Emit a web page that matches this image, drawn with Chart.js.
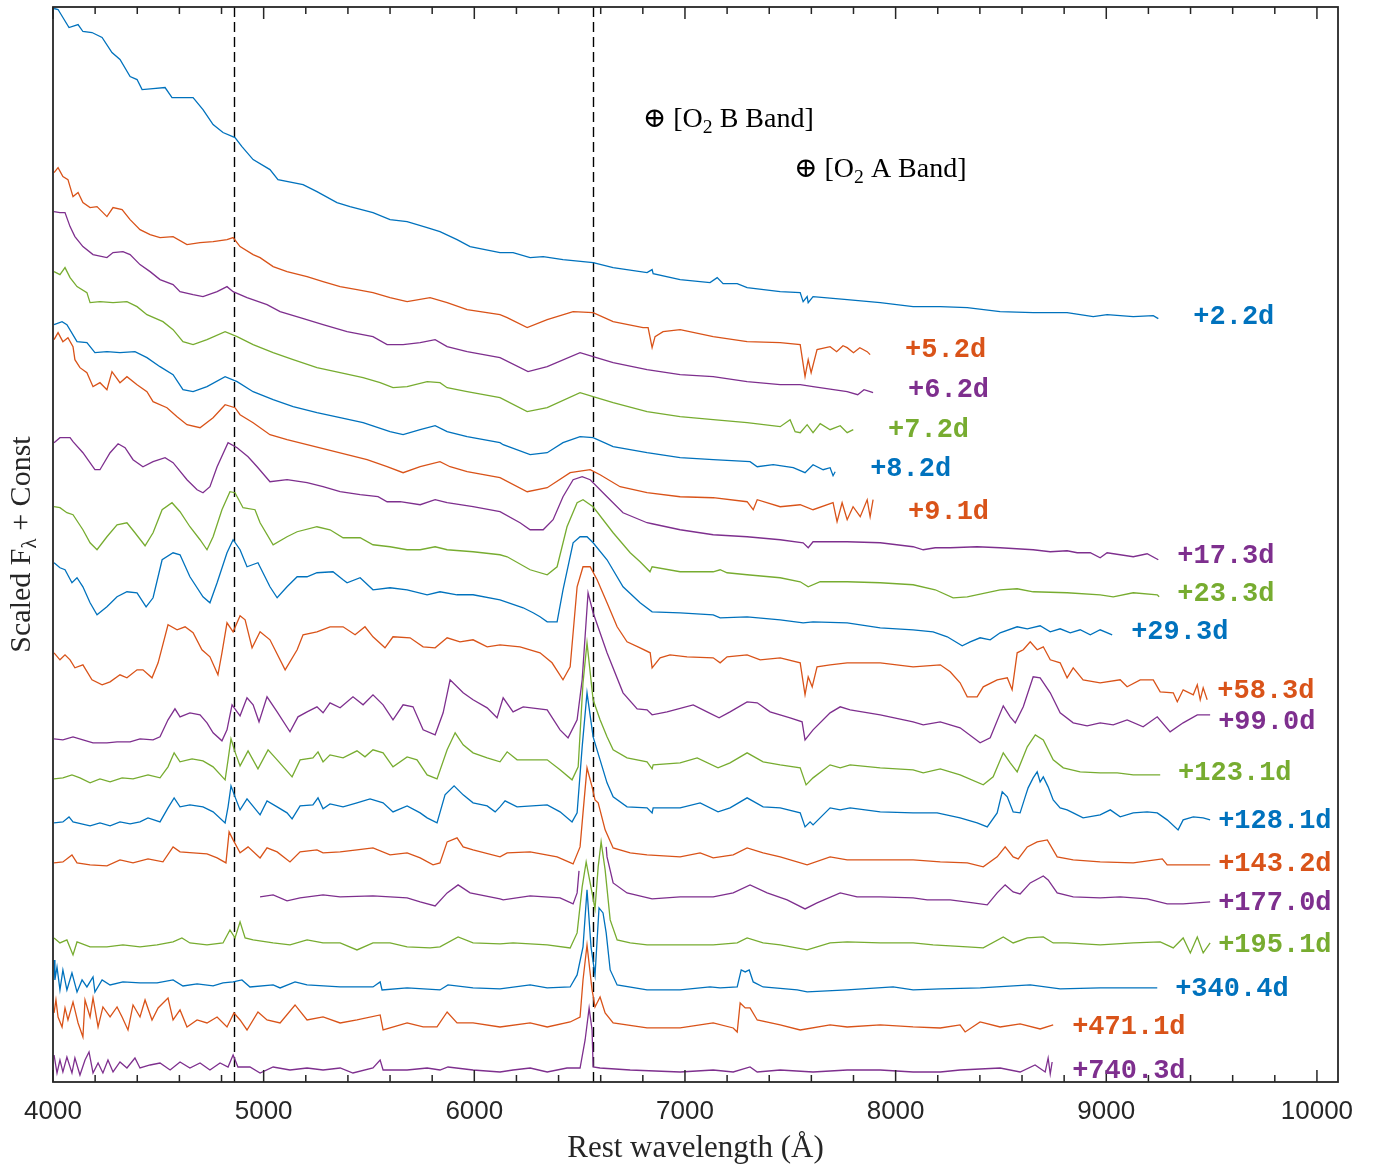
<!DOCTYPE html>
<html>
<head>
<meta charset="utf-8">
<title>Spectral sequence</title>
<script src="https://cdn.jsdelivr.net/npm/chart.js@4.4.1/dist/chart.umd.min.js"></script>
<style>
  html, body { margin: 0; padding: 0; background: #fff; }
  canvas { display: block; }
</style>
</head>
<body>
<canvas id="spectra" width="1382" height="1169"></canvas>
<script>
// ── Spectra: [rest wavelength (Å), scaled flux + const] ──
const s2_2 = [[4005,10.73],[4024,10.72],[4047,10.64],[4076,10.54],[4119,10.57],[4142,10.50],[4185,10.49],[4233,10.44],[4280,10.29],[4318,10.22],[4366,10.05],[4399,10.02],[4423,9.92],[4475,9.93],[4532,9.94],[4565,9.84],[4617,9.84],[4665,9.84],[4712,9.72],[4760,9.57],[4807,9.49],[4864,9.44],[4897,9.35],[4950,9.22],[5030,9.12],[5068,9.02],[5187,8.97],[5253,8.90],[5348,8.79],[5410,8.75],[5519,8.69],[5600,8.62],[5681,8.60],[5776,8.54],[5837,8.50],[5918,8.42],[5980,8.35],[6122,8.29],[6184,8.29],[6265,8.24],[6327,8.25],[6421,8.22],[6564,8.19],[6659,8.14],[6820,8.09],[6844,8.12],[6849,8.08],[6977,8.02],[7119,7.99],[7153,8.04],[7181,7.98],[7248,7.98],[7295,7.94],[7452,7.90],[7547,7.89],[7561,7.80],[7580,7.85],[7585,7.79],[7608,7.85],[7770,7.82],[7927,7.79],[8083,7.75],[8212,7.75],[8340,7.74],[8496,7.70],[8653,7.69],[8814,7.69],[8938,7.65],[9004,7.67],[9128,7.65],[9223,7.66],[9247,7.63]];
const s5_2 = [[4005,9.09],[4024,9.14],[4047,9.05],[4071,9.02],[4095,8.85],[4119,8.89],[4142,8.79],[4176,8.74],[4209,8.75],[4256,8.65],[4285,8.74],[4328,8.72],[4366,8.62],[4413,8.52],[4461,8.47],[4508,8.44],[4570,8.45],[4636,8.37],[4698,8.39],[4760,8.40],[4826,8.42],[4855,8.44],[4888,8.35],[4950,8.27],[4983,8.24],[5045,8.15],[5111,8.10],[5206,8.05],[5282,8.00],[5363,7.95],[5443,7.92],[5519,7.89],[5600,7.84],[5681,7.80],[5790,7.84],[5871,7.79],[5966,7.72],[6122,7.67],[6156,7.64],[6251,7.54],[6346,7.62],[6469,7.70],[6564,7.69],[6659,7.60],[6801,7.54],[6825,7.54],[6844,7.34],[6858,7.45],[6896,7.50],[6977,7.52],[7134,7.45],[7295,7.40],[7452,7.39],[7547,7.37],[7570,7.05],[7585,7.22],[7599,7.09],[7627,7.32],[7689,7.35],[7720,7.30],[7750,7.36],[7770,7.34],[7800,7.29],[7830,7.34],[7865,7.30],[7879,7.27]];
const s6_2 = [[4005,8.70],[4033,8.69],[4057,8.69],[4081,8.55],[4104,8.45],[4142,8.35],[4190,8.27],[4256,8.24],[4285,8.29],[4332,8.30],[4366,8.27],[4413,8.17],[4461,8.10],[4508,8.02],[4570,7.97],[4603,7.90],[4665,7.87],[4712,7.85],[4779,7.90],[4826,7.95],[4855,7.90],[4921,7.84],[5016,7.77],[5078,7.70],[5173,7.64],[5282,7.57],[5396,7.50],[5519,7.45],[5586,7.37],[5662,7.37],[5743,7.39],[5814,7.42],[5871,7.35],[5966,7.30],[6122,7.24],[6255,7.10],[6346,7.15],[6502,7.29],[6564,7.25],[6659,7.19],[6820,7.12],[6977,7.07],[7134,7.05],[7295,7.00],[7452,6.97],[7547,6.97],[7608,6.95],[7770,6.90],[7820,6.87],[7850,6.92],[7879,6.90],[7893,6.89]];
const s7_2 = [[4005,8.10],[4033,8.07],[4057,8.14],[4081,8.04],[4114,7.95],[4161,7.89],[4176,7.79],[4223,7.80],[4285,7.79],[4351,7.80],[4399,7.75],[4446,7.67],[4522,7.60],[4570,7.52],[4617,7.40],[4665,7.37],[4731,7.42],[4817,7.50],[4874,7.45],[4950,7.37],[5045,7.29],[5140,7.22],[5253,7.14],[5363,7.09],[5472,7.04],[5553,6.99],[5614,6.94],[5681,6.95],[5776,7.00],[5837,6.99],[5871,6.94],[5966,6.90],[6122,6.84],[6251,6.70],[6346,6.74],[6502,6.89],[6564,6.85],[6659,6.79],[6820,6.70],[6977,6.65],[7134,6.62],[7295,6.59],[7452,6.55],[7499,6.62],[7523,6.50],[7547,6.49],[7580,6.57],[7608,6.49],[7642,6.58],[7689,6.52],[7737,6.56],[7770,6.49],[7799,6.52]];
const s8_2 = [[4005,7.57],[4043,7.60],[4066,7.57],[4114,7.40],[4161,7.39],[4199,7.29],[4256,7.30],[4318,7.29],[4389,7.30],[4446,7.24],[4508,7.15],[4570,7.07],[4617,6.92],[4665,6.90],[4731,6.95],[4817,7.05],[4874,7.00],[4950,6.90],[5045,6.82],[5140,6.75],[5253,6.69],[5363,6.64],[5472,6.59],[5600,6.50],[5662,6.47],[5743,6.52],[5814,6.56],[5871,6.50],[5966,6.45],[6122,6.39],[6137,6.37],[6265,6.27],[6346,6.29],[6421,6.39],[6502,6.45],[6564,6.44],[6659,6.35],[6820,6.29],[6977,6.24],[7134,6.22],[7309,6.20],[7343,6.15],[7419,6.17],[7514,6.14],[7570,6.09],[7608,6.17],[7656,6.12],[7689,6.14],[7703,6.06],[7713,6.10]];
const s9_1 = [[4005,7.42],[4024,7.49],[4047,7.40],[4071,7.44],[4095,7.35],[4104,7.22],[4128,7.14],[4161,7.09],[4190,6.95],[4223,6.99],[4256,6.92],[4280,7.10],[4318,6.99],[4351,7.05],[4399,6.97],[4446,6.90],[4475,6.80],[4541,6.74],[4589,6.65],[4636,6.57],[4698,6.54],[4760,6.64],[4817,6.77],[4864,6.74],[4888,6.67],[4950,6.59],[5030,6.47],[5111,6.42],[5206,6.37],[5301,6.32],[5396,6.27],[5491,6.22],[5586,6.15],[5662,6.09],[5743,6.15],[5837,6.20],[5885,6.15],[5966,6.10],[6122,6.04],[6251,5.90],[6346,5.94],[6455,6.09],[6550,6.12],[6597,6.07],[6692,5.95],[6820,5.89],[6977,5.85],[7134,5.84],[7295,5.80],[7324,5.72],[7343,5.82],[7452,5.75],[7547,5.77],[7608,5.72],[7703,5.79],[7722,5.60],[7746,5.79],[7770,5.62],[7798,5.75],[7832,5.65],[7865,5.82],[7879,5.65],[7893,5.82]];
const s17_3 = [[4005,6.39],[4033,6.44],[4081,6.44],[4095,6.40],[4142,6.29],[4199,6.12],[4223,6.12],[4271,6.29],[4309,6.38],[4342,6.34],[4380,6.22],[4427,6.15],[4475,6.20],[4532,6.24],[4570,6.19],[4636,6.02],[4684,5.92],[4712,5.89],[4745,5.95],[4779,6.15],[4831,6.39],[4874,6.34],[4926,6.25],[4969,6.15],[5030,6.00],[5111,6.02],[5206,5.99],[5282,5.95],[5363,5.90],[5458,5.87],[5543,5.85],[5586,5.80],[5648,5.80],[5743,5.77],[5814,5.82],[5871,5.79],[5994,5.75],[6122,5.70],[6217,5.59],[6265,5.52],[6327,5.52],[6374,5.62],[6421,5.85],[6469,6.02],[6512,6.05],[6550,6.02],[6630,5.85],[6706,5.69],[6820,5.59],[6844,5.58],[6977,5.52],[7134,5.47],[7295,5.45],[7452,5.42],[7561,5.39],[7585,5.34],[7608,5.40],[7770,5.40],[7927,5.39],[8083,5.35],[8131,5.32],[8188,5.34],[8259,5.34],[8387,5.35],[8496,5.34],[8653,5.32],[8734,5.30],[8814,5.31],[8862,5.29],[8924,5.29],[8971,5.24],[9004,5.29],[9128,5.25],[9194,5.28],[9247,5.22]];
const s23_3 = [[4005,5.75],[4033,5.74],[4066,5.69],[4095,5.67],[4142,5.52],[4176,5.39],[4209,5.32],[4256,5.45],[4304,5.57],[4351,5.59],[4389,5.49],[4437,5.36],[4475,5.49],[4518,5.72],[4565,5.79],[4603,5.70],[4650,5.55],[4698,5.42],[4731,5.32],[4760,5.45],[4802,5.72],[4840,5.90],[4864,5.89],[4902,5.74],[4959,5.72],[4983,5.59],[5045,5.37],[5111,5.45],[5159,5.50],[5253,5.55],[5315,5.52],[5377,5.44],[5458,5.44],[5519,5.37],[5600,5.35],[5681,5.32],[5743,5.32],[5814,5.35],[5871,5.32],[5994,5.30],[6122,5.27],[6156,5.25],[6265,5.12],[6346,5.07],[6393,5.15],[6440,5.55],[6488,5.79],[6516,5.82],[6564,5.75],[6659,5.49],[6740,5.29],[6787,5.20],[6834,5.10],[6844,5.15],[6977,5.10],[7134,5.10],[7167,5.12],[7200,5.09],[7295,5.07],[7452,5.04],[7547,5.00],[7585,4.95],[7642,5.00],[7770,5.00],[7927,4.99],[8083,4.97],[8188,4.92],[8273,4.84],[8340,4.85],[8496,4.92],[8577,4.93],[8653,4.90],[8814,4.89],[8971,4.87],[9033,4.85],[9128,4.89],[9242,4.87],[9251,4.85]];
const s29_3 = [[4005,5.19],[4033,5.14],[4057,5.12],[4090,4.99],[4114,5.04],[4142,4.95],[4176,4.79],[4209,4.67],[4256,4.75],[4304,4.85],[4351,4.90],[4399,4.89],[4442,4.75],[4475,4.84],[4518,5.22],[4570,5.29],[4603,5.27],[4650,5.05],[4712,4.85],[4745,4.79],[4779,4.99],[4826,5.29],[4855,5.42],[4888,5.32],[4921,5.15],[4973,5.19],[5030,4.95],[5064,4.84],[5111,4.95],[5159,5.05],[5206,5.05],[5253,5.09],[5329,5.10],[5377,5.02],[5396,4.99],[5458,5.04],[5519,4.92],[5600,4.94],[5681,4.92],[5776,4.87],[5837,4.90],[5918,4.87],[5994,4.87],[6122,4.82],[6232,4.74],[6279,4.69],[6312,4.65],[6346,4.60],[6393,4.60],[6421,4.92],[6469,5.39],[6502,5.45],[6535,5.45],[6564,5.39],[6630,5.22],[6706,4.95],[6787,4.79],[6844,4.70],[6977,4.69],[7134,4.67],[7167,4.64],[7295,4.65],[7452,4.62],[7561,4.59],[7608,4.60],[7770,4.59],[7927,4.54],[8083,4.52],[8178,4.50],[8245,4.45],[8316,4.36],[8354,4.40],[8401,4.44],[8449,4.42],[8496,4.49],[8577,4.55],[8625,4.53],[8686,4.56],[8734,4.50],[8781,4.53],[8829,4.49],[8876,4.52],[8924,4.47],[8971,4.52],[9028,4.47]];
const s58_3 = [[4005,4.29],[4033,4.22],[4057,4.27],[4081,4.22],[4104,4.14],[4142,4.17],[4185,4.02],[4233,3.97],[4271,4.00],[4318,4.07],[4351,4.04],[4399,4.12],[4427,4.12],[4470,4.04],[4499,4.19],[4546,4.57],[4589,4.52],[4627,4.55],[4665,4.49],[4707,4.32],[4745,4.25],[4783,4.07],[4802,4.29],[4826,4.59],[4855,4.50],[4888,4.66],[4912,4.62],[4945,4.34],[4983,4.50],[5030,4.42],[5102,4.12],[5159,4.32],[5187,4.47],[5253,4.50],[5315,4.55],[5377,4.55],[5434,4.47],[5481,4.55],[5519,4.45],[5576,4.34],[5614,4.45],[5695,4.44],[5757,4.35],[5814,4.34],[5871,4.44],[5932,4.40],[5994,4.42],[6061,4.35],[6122,4.37],[6217,4.35],[6312,4.29],[6369,4.19],[6421,4.02],[6455,4.15],[6488,4.95],[6516,5.15],[6550,5.15],[6583,5.02],[6630,4.79],[6678,4.55],[6725,4.40],[6787,4.34],[6835,4.29],[6844,4.14],[6882,4.24],[6929,4.27],[7010,4.25],[7134,4.24],[7167,4.19],[7200,4.25],[7295,4.27],[7357,4.22],[7452,4.24],[7547,4.19],[7570,3.87],[7585,4.05],[7604,3.95],[7627,4.15],[7689,4.17],[7770,4.19],[7927,4.19],[8083,4.15],[8212,4.17],[8259,4.10],[8306,3.99],[8340,3.85],[8387,3.85],[8416,3.95],[8482,4.02],[8530,4.04],[8553,3.92],[8577,4.29],[8606,4.32],[8639,4.40],[8672,4.32],[8701,4.35],[8734,4.22],[8781,4.19],[8814,4.04],[8843,4.14],[8890,4.02],[8971,3.99],[9066,4.02],[9099,3.95],[9161,4.02],[9223,4.02],[9256,3.90],[9318,3.89],[9337,3.80],[9365,3.92],[9413,3.87],[9432,3.97],[9446,3.82],[9460,3.94],[9479,3.82]];
const s99_0 = [[4005,3.43],[4047,3.42],[4095,3.45],[4142,3.42],[4190,3.39],[4256,3.39],[4304,3.40],[4366,3.40],[4413,3.43],[4475,3.42],[4508,3.45],[4546,3.62],[4579,3.73],[4603,3.65],[4650,3.69],[4698,3.67],[4731,3.59],[4760,3.49],[4802,3.41],[4826,3.52],[4850,3.77],[4874,3.70],[4888,3.66],[4921,3.84],[4950,3.77],[4978,3.60],[5016,3.85],[5064,3.70],[5125,3.50],[5163,3.65],[5206,3.70],[5253,3.75],[5282,3.69],[5315,3.79],[5363,3.74],[5424,3.85],[5472,3.77],[5519,3.87],[5567,3.77],[5614,3.62],[5662,3.77],[5709,3.75],[5757,3.52],[5814,3.47],[5852,3.69],[5885,4.02],[5947,3.89],[5994,3.82],[6061,3.74],[6108,3.64],[6137,3.84],[6184,3.70],[6232,3.75],[6346,3.72],[6407,3.52],[6445,3.44],[6488,3.62],[6512,4.02],[6540,4.89],[6564,4.69],[6630,4.29],[6706,3.89],[6773,3.73],[6820,3.72],[6844,3.67],[6915,3.70],[7039,3.77],[7105,3.70],[7162,3.64],[7214,3.70],[7295,3.80],[7343,3.79],[7404,3.70],[7499,3.64],[7556,3.60],[7570,3.42],[7608,3.52],[7689,3.69],[7737,3.75],[7784,3.72],[7927,3.67],[8083,3.60],[8131,3.57],[8212,3.60],[8306,3.54],[8401,3.39],[8449,3.44],[8511,3.76],[8544,3.65],[8568,3.59],[8606,3.75],[8653,4.05],[8686,4.04],[8734,3.89],[8781,3.69],[8843,3.59],[8909,3.56],[8971,3.59],[9033,3.57],[9099,3.62],[9175,3.55],[9242,3.65],[9303,3.50],[9365,3.59],[9432,3.67],[9493,3.67]];
const s123_1 = [[4005,3.03],[4047,3.04],[4090,3.07],[4128,3.04],[4176,2.99],[4223,3.03],[4271,3.00],[4328,3.04],[4380,3.03],[4451,3.07],[4508,3.04],[4546,3.15],[4575,3.29],[4603,3.20],[4660,3.23],[4712,3.21],[4760,3.15],[4817,3.02],[4831,3.22],[4845,3.43],[4864,3.30],[4888,3.16],[4926,3.31],[4973,3.13],[5021,3.32],[5064,3.22],[5135,3.05],[5173,3.22],[5234,3.24],[5258,3.30],[5282,3.20],[5315,3.27],[5377,3.24],[5443,3.31],[5481,3.25],[5519,3.32],[5567,3.29],[5614,3.15],[5681,3.25],[5728,3.22],[5776,3.07],[5823,3.03],[5871,3.32],[5909,3.49],[5947,3.37],[5994,3.29],[6061,3.24],[6122,3.20],[6156,3.30],[6203,3.22],[6346,3.22],[6407,3.12],[6464,3.02],[6493,3.15],[6516,3.99],[6535,4.39],[6564,3.82],[6597,3.62],[6630,3.45],[6659,3.32],[6725,3.24],[6820,3.20],[6844,3.13],[6849,3.17],[6977,3.19],[7058,3.24],[7157,3.14],[7214,3.19],[7295,3.29],[7371,3.20],[7452,3.17],[7547,3.14],[7575,2.97],[7608,3.04],[7689,3.17],[7737,3.14],[7784,3.17],[7927,3.14],[8083,3.12],[8131,3.09],[8212,3.13],[8306,3.07],[8416,2.97],[8463,3.05],[8511,3.29],[8544,3.19],[8577,3.10],[8625,3.35],[8663,3.47],[8701,3.42],[8748,3.22],[8796,3.14],[8876,3.10],[8971,3.09],[9052,3.09],[9128,3.07],[9194,3.07],[9256,3.07]];
const s128_1 = [[4005,2.59],[4047,2.60],[4076,2.65],[4095,2.60],[4176,2.56],[4223,2.59],[4271,2.56],[4318,2.60],[4366,2.58],[4413,2.60],[4451,2.64],[4508,2.60],[4546,2.74],[4575,2.84],[4603,2.75],[4650,2.77],[4712,2.75],[4760,2.70],[4817,2.59],[4831,2.75],[4845,2.96],[4864,2.85],[4888,2.72],[4921,2.83],[4983,2.67],[5016,2.81],[5064,2.75],[5111,2.69],[5135,2.63],[5173,2.76],[5234,2.77],[5258,2.84],[5282,2.73],[5315,2.78],[5377,2.75],[5443,2.79],[5505,2.83],[5567,2.79],[5614,2.70],[5681,2.76],[5743,2.69],[5776,2.64],[5823,2.59],[5861,2.87],[5904,2.96],[5947,2.87],[5994,2.79],[6061,2.76],[6099,2.70],[6122,2.75],[6146,2.81],[6203,2.75],[6346,2.77],[6407,2.70],[6464,2.60],[6488,2.69],[6512,3.35],[6535,3.89],[6564,3.45],[6597,3.22],[6630,2.99],[6659,2.85],[6725,2.75],[6820,2.74],[6844,2.69],[6849,2.74],[6977,2.74],[7072,2.79],[7157,2.70],[7214,2.74],[7295,2.84],[7371,2.75],[7452,2.74],[7547,2.69],[7570,2.55],[7594,2.60],[7608,2.57],[7689,2.74],[7737,2.72],[7784,2.74],[7927,2.70],[8083,2.69],[8197,2.69],[8306,2.64],[8387,2.59],[8435,2.55],[8482,2.69],[8506,2.90],[8530,2.85],[8558,2.70],[8591,2.69],[8615,2.85],[8629,2.94],[8653,3.04],[8672,3.10],[8686,3.00],[8701,3.05],[8724,2.95],[8748,2.82],[8781,2.74],[8814,2.72],[8843,2.69],[8890,2.64],[8971,2.67],[9019,2.72],[9066,2.65],[9128,2.69],[9194,2.70],[9242,2.69],[9289,2.62],[9341,2.52],[9365,2.62],[9413,2.65],[9460,2.64],[9493,2.62]];
const s143_2 = [[4005,2.19],[4047,2.20],[4090,2.27],[4114,2.19],[4176,2.17],[4256,2.16],[4318,2.22],[4380,2.19],[4451,2.23],[4522,2.20],[4570,2.35],[4603,2.30],[4665,2.29],[4731,2.28],[4779,2.24],[4821,2.19],[4836,2.50],[4855,2.42],[4888,2.29],[4926,2.35],[4983,2.24],[5016,2.34],[5064,2.30],[5125,2.20],[5173,2.30],[5253,2.32],[5282,2.29],[5363,2.30],[5443,2.32],[5519,2.34],[5600,2.27],[5681,2.29],[5743,2.24],[5804,2.17],[5837,2.19],[5871,2.40],[5918,2.44],[5947,2.35],[5994,2.32],[6122,2.25],[6156,2.29],[6265,2.30],[6393,2.25],[6469,2.18],[6502,2.35],[6516,2.69],[6535,3.14],[6559,2.95],[6573,2.82],[6588,2.79],[6621,2.52],[6659,2.34],[6740,2.29],[6820,2.27],[6977,2.25],[7072,2.29],[7134,2.24],[7229,2.27],[7295,2.34],[7371,2.29],[7452,2.25],[7580,2.17],[7689,2.25],[7770,2.22],[7927,2.22],[8083,2.22],[8212,2.20],[8340,2.19],[8416,2.15],[8482,2.25],[8520,2.35],[8558,2.25],[8582,2.23],[8625,2.35],[8672,2.40],[8720,2.42],[8767,2.25],[8843,2.22],[8971,2.20],[9128,2.19],[9266,2.23],[9289,2.17],[9493,2.17]];
const s177_0 = [[4983,1.85],[5045,1.87],[5111,1.81],[5173,1.84],[5282,1.87],[5363,1.85],[5519,1.86],[5681,1.84],[5743,1.80],[5814,1.76],[5871,1.89],[5923,1.97],[5980,1.89],[6122,1.83],[6137,1.82],[6265,1.86],[6407,1.84],[6469,1.78],[6488,1.89],[6497,2.11],[6560,null],[6626,2.35],[6630,2.25],[6659,1.99],[6725,1.89],[6844,1.83],[6977,1.85],[7134,1.85],[7229,1.89],[7309,1.97],[7390,1.89],[7485,1.82],[7570,1.73],[7627,1.79],[7737,1.89],[7817,1.85],[7927,1.85],[8083,1.84],[8150,1.82],[8259,1.82],[8368,1.79],[8435,1.77],[8482,1.89],[8520,1.97],[8558,1.90],[8591,1.88],[8639,1.99],[8701,2.06],[8724,2.02],[8767,1.89],[8843,1.85],[8971,1.84],[9066,1.85],[9194,1.83],[9289,1.78],[9365,1.78],[9493,1.80]];
const s195_1 = [[4005,1.44],[4033,1.39],[4066,1.42],[4095,1.27],[4114,1.40],[4176,1.35],[4256,1.35],[4332,1.37],[4413,1.35],[4494,1.37],[4570,1.40],[4612,1.44],[4650,1.39],[4731,1.37],[4807,1.39],[4840,1.52],[4864,1.44],[4888,1.60],[4912,1.44],[4950,1.42],[5045,1.39],[5125,1.37],[5206,1.42],[5282,1.39],[5363,1.39],[5443,1.32],[5519,1.39],[5600,1.39],[5681,1.35],[5790,1.34],[5837,1.35],[5923,1.45],[5994,1.39],[6122,1.38],[6184,1.39],[6346,1.37],[6455,1.34],[6488,1.49],[6512,1.95],[6531,2.20],[6559,1.89],[6573,1.73],[6588,2.15],[6602,2.40],[6621,2.12],[6645,1.62],[6678,1.42],[6740,1.39],[6820,1.37],[6977,1.37],[7134,1.37],[7248,1.39],[7295,1.44],[7371,1.39],[7452,1.37],[7580,1.32],[7689,1.39],[7770,1.40],[7927,1.39],[8083,1.39],[8178,1.37],[8340,1.35],[8416,1.34],[8511,1.45],[8558,1.39],[8625,1.44],[8701,1.45],[8748,1.39],[8814,1.39],[8971,1.37],[9128,1.39],[9256,1.40],[9318,1.34],[9365,1.44],[9399,1.29],[9432,1.45],[9460,1.29],[9493,1.39]];
const s340_4 = [[4005,1.22],[4009,1.02],[4019,1.15],[4033,0.92],[4047,1.12],[4066,0.92],[4090,1.09],[4114,0.90],[4138,1.02],[4161,0.95],[4190,1.05],[4199,0.90],[4233,1.02],[4271,0.97],[4332,1.00],[4413,0.99],[4494,0.99],[4570,1.02],[4617,0.96],[4684,0.98],[4760,0.96],[4807,0.99],[4855,1.00],[4897,1.02],[4935,0.95],[5045,0.97],[5078,0.94],[5149,1.00],[5206,0.97],[5363,0.95],[5519,0.95],[5553,1.00],[5562,0.92],[5681,0.94],[5837,0.92],[5875,0.97],[5994,0.94],[6122,0.93],[6265,0.97],[6346,0.94],[6455,0.95],[6488,1.07],[6516,1.35],[6535,1.92],[6554,1.35],[6573,1.07],[6592,1.74],[6611,1.69],[6626,1.49],[6645,1.12],[6678,0.97],[6820,0.92],[6977,0.92],[7119,0.95],[7167,0.94],[7248,0.95],[7267,1.12],[7286,1.10],[7305,1.12],[7324,1.00],[7371,0.95],[7533,0.92],[7580,0.90],[7770,0.92],[7988,0.95],[8083,0.92],[8212,0.93],[8401,0.94],[8639,0.97],[8781,0.93],[8971,0.94],[9242,0.94]];
const s471_1 = [[4005,0.69],[4014,0.82],[4024,0.65],[4043,0.55],[4057,0.74],[4071,0.62],[4095,0.80],[4119,0.59],[4142,0.45],[4152,0.82],[4176,0.65],[4190,0.84],[4214,0.55],[4237,0.75],[4271,0.65],[4304,0.75],[4328,0.65],[4356,0.52],[4380,0.77],[4413,0.65],[4437,0.82],[4470,0.62],[4499,0.74],[4546,0.84],[4570,0.62],[4603,0.72],[4636,0.55],[4684,0.62],[4731,0.59],[4779,0.65],[4826,0.55],[4859,0.69],[4888,0.62],[4921,0.52],[4973,0.70],[5016,0.62],[5078,0.59],[5149,0.77],[5206,0.62],[5282,0.65],[5363,0.59],[5443,0.62],[5553,0.67],[5567,0.52],[5681,0.59],[5757,0.55],[5823,0.55],[5871,0.70],[5918,0.59],[5994,0.59],[6122,0.55],[6265,0.59],[6346,0.55],[6455,0.60],[6502,0.65],[6516,1.02],[6535,1.37],[6559,0.92],[6573,0.75],[6597,0.85],[6621,0.69],[6659,0.59],[6820,0.54],[6977,0.54],[7134,0.59],[7229,0.54],[7248,0.50],[7262,0.79],[7286,0.74],[7309,0.74],[7343,0.62],[7452,0.57],[7547,0.52],[7689,0.57],[7770,0.55],[7927,0.57],[8083,0.55],[8212,0.54],[8306,0.57],[8330,0.50],[8401,0.60],[8496,0.55],[8591,0.58],[8686,0.53],[8748,0.57]];
const s740_3 = [[4005,0.27],[4019,0.09],[4033,0.22],[4047,0.10],[4066,0.25],[4090,0.09],[4104,0.24],[4128,0.07],[4152,0.22],[4171,0.30],[4190,0.09],[4214,0.19],[4237,0.09],[4261,0.22],[4285,0.10],[4318,0.20],[4351,0.14],[4389,0.24],[4413,0.14],[4461,0.17],[4508,0.19],[4556,0.12],[4603,0.20],[4650,0.14],[4698,0.19],[4745,0.12],[4793,0.19],[4831,0.15],[4855,0.27],[4878,0.15],[4935,0.15],[4983,0.09],[5045,0.15],[5125,0.12],[5206,0.14],[5282,0.12],[5363,0.14],[5424,0.09],[5519,0.14],[5553,0.22],[5567,0.12],[5681,0.12],[5776,0.14],[5837,0.12],[5875,0.15],[5994,0.12],[6122,0.10],[6184,0.12],[6265,0.14],[6346,0.10],[6440,0.14],[6502,0.14],[6526,0.42],[6545,0.74],[6559,0.52],[6564,0.15],[6597,0.14],[6740,0.12],[6977,0.10],[7134,0.12],[7229,0.10],[7309,0.15],[7343,0.10],[7452,0.12],[7608,0.10],[7770,0.12],[7927,0.12],[8083,0.10],[8212,0.10],[8306,0.12],[8496,0.14],[8591,0.10],[8662,0.17],[8710,0.10],[8724,0.24],[8734,0.08],[8743,0.20]];

const spectra = [s2_2, s5_2, s6_2, s7_2, s8_2, s9_1, s17_3, s23_3, s29_3, s58_3, s99_0, s123_1, s128_1, s143_2, s177_0, s195_1, s340_4, s471_1, s740_3];
const epochs = ['+2.2d', '+5.2d', '+6.2d', '+7.2d', '+8.2d', '+9.1d', '+17.3d', '+23.3d', '+29.3d', '+58.3d', '+99.0d', '+123.1d', '+128.1d', '+143.2d', '+177.0d', '+195.1d', '+340.4d', '+471.1d', '+740.3d'];
// label anchors, in data units (left edge wavelength, flux)
const labelWave = [9413, 8045, 8059, 7964, 7879, 8059, 9337, 9337, 9118, 9527, 9531, 9341, 9531, 9531, 9531, 9531, 9327, 8838, 8838];
const labelFlux = [7.64, 7.31, 6.91, 6.51, 6.13, 5.70, 5.26, 4.88, 4.50, 3.91, 3.60, 3.09, 2.61, 2.18, 1.79, 1.37, 0.93, 0.55, 0.11];

const balmerLines = [4861, 6563];          // Hβ, Hα
const xTicks = [4000, 5000, 6000, 7000, 8000, 9000, 10000];
const telluric = [
  { wave: 6800, flux: 9.62, band: ' B Band]' },
  { wave: 7518, flux: 9.12, band: ' A Band]' }
];

const palette = ['#0072BD', '#D95319', '#7E2F8E', '#77AC30'];
const SERIF = '"Liberation Serif", "DejaVu Serif", serif';
const INK = '#262626';

// draw a run of text pieces; pieces flagged true are subscripts
function richText(ctx, parts, x, y, size, align) {
  const widths = parts.map(([t, sub]) => {
    ctx.font = (sub ? size * 0.7 : size) + 'px ' + SERIF;
    return ctx.measureText(t).width;
  });
  const total = widths.reduce((a, b) => a + b, 0);
  let cx = align === 'center' ? x - total / 2 : x;
  ctx.textAlign = 'left';
  ctx.textBaseline = 'middle';
  parts.forEach(([t, sub], i) => {
    ctx.font = (sub ? size * 0.7 : size) + 'px ' + SERIF;
    ctx.fillText(t, cx, sub ? y + size * 0.28 : y);
    cx += widths[i];
  });
}

const decor = {
  id: 'decor',
  beforeDatasetsDraw(chart) {
    const { ctx, chartArea: a, scales: { x } } = chart;
    ctx.save();
    ctx.strokeStyle = '#000';
    ctx.lineWidth = 1.4;
    ctx.setLineDash([10, 5]);
    balmerLines.forEach(w => {
      const px = Math.round(x.getPixelForValue(w)) + 0.5;
      ctx.beginPath();
      ctx.moveTo(px, a.top);
      ctx.lineTo(px, a.bottom);
      ctx.stroke();
    });
    ctx.restore();
  },
  afterDraw(chart) {
    const { ctx, chartArea: a, scales: { x, y } } = chart;
    ctx.save();

    // box + inward ticks top and bottom
    ctx.strokeStyle = INK;
    ctx.lineWidth = 1.8;
    ctx.strokeRect(a.left, a.top, a.right - a.left, a.bottom - a.top);
    ctx.lineWidth = 1.5;
    for (let v = 4000; v <= 10100; v += 200) {
      const px = x.getPixelForValue(v);
      const len = v % 1000 === 0 ? 12 : 7;
      ctx.beginPath();
      ctx.moveTo(px, a.bottom); ctx.lineTo(px, a.bottom - len);
      ctx.moveTo(px, a.top); ctx.lineTo(px, a.top + len);
      ctx.stroke();
    }

    // epoch labels
    ctx.font = 'bold 27px "Liberation Mono", "DejaVu Sans Mono", monospace';
    ctx.textAlign = 'left';
    ctx.textBaseline = 'middle';
    epochs.forEach((txt, i) => {
      ctx.fillStyle = palette[i % palette.length];
      ctx.fillText(txt, x.getPixelForValue(labelWave[i]), y.getPixelForValue(labelFlux[i]));
    });

    // telluric band notes
    ctx.fillStyle = '#000';
    telluric.forEach(t => {
      richText(ctx, [['\u2295 [O', false], ['2', true], [t.band, false]],
        x.getPixelForValue(t.wave), y.getPixelForValue(t.flux), 28, 'left');
    });

    // axis titles
    ctx.fillStyle = INK;
    richText(ctx, [['Rest wavelength (\u00c5)', false]], (a.left + a.right) / 2, 1149, 31, 'center');
    ctx.translate(22, (a.top + a.bottom) / 2);
    ctx.rotate(-Math.PI / 2);
    richText(ctx, [['Scaled F', false], ['\u03bb', true], [' + Const', false]], 0, 0, 30, 'center');
    ctx.restore();
  }
};

const datasets = spectra.map((s, i) => ({
  label: epochs[i],
  data: s.map(([w, f]) => ({ x: w, y: f })),
  borderColor: palette[i % palette.length],
  borderWidth: 1.3,
  pointRadius: 0,
  fill: false,
  tension: 0,
  spanGaps: false,
  order: spectra.length - i
}));

new Chart(document.getElementById('spectra'), {
  type: 'line',
  data: { datasets },
  options: {
    responsive: false,
    animation: false,
    devicePixelRatio: 1,
    layout: { padding: { left: 0, right: 44, top: 7, bottom: 0 } },
    plugins: { legend: { display: false }, tooltip: { enabled: false } },
    scales: {
      x: {
        type: 'linear',
        min: 4000,
        max: 10100,
        grid: { display: false, drawTicks: false },
        border: { display: false },
        ticks: {
          color: INK,
          font: { family: '"Liberation Sans", Arial, sans-serif', size: 26 },
          padding: 14,
          maxRotation: 0,
          autoSkip: false,
          callback: v => String(v)
        },
        afterBuildTicks: s => { s.ticks = xTicks.map(v => ({ value: v })); },
        afterFit: s => { s.height = 87; }
      },
      y: {
        min: 0,
        max: 10.745,
        grid: { display: false, drawTicks: false },
        border: { display: false },
        ticks: { display: false },
        afterFit: s => { s.width = 53; }
      }
    }
  },
  plugins: [decor]
});
</script>
</body>
</html>
